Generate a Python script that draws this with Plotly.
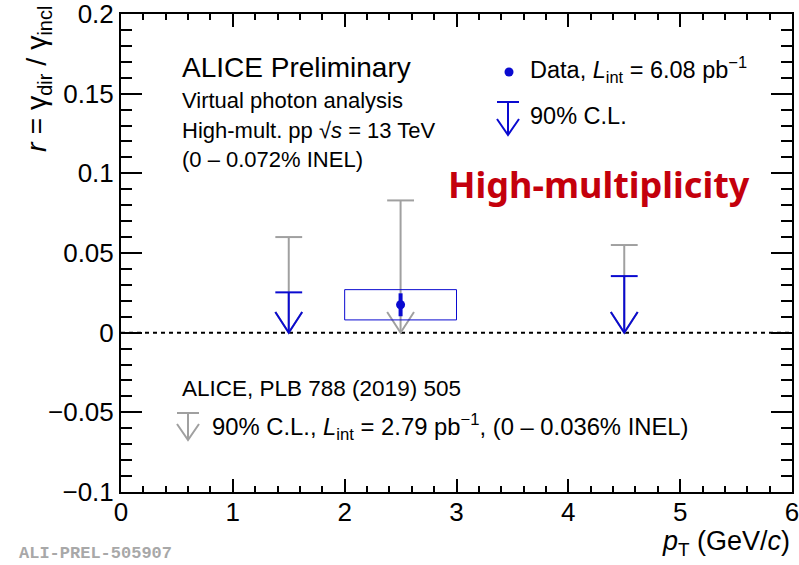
import plotly.graph_objects as go

# ---- data -------------------------------------------------------------
# previous measurement (ALICE, PLB 788 (2019) 505): 90% C.L. upper limits
prev_pt = [1.5, 2.5, 4.5]
prev_ul = [0.060, 0.083, 0.055]

# high-multiplicity analysis: 90% C.L. upper limits
hm_ul_pt = [1.5, 4.5]
hm_ul = [0.0253, 0.0355]

# high-multiplicity analysis: measured point
hm_pt = [2.5]
hm_r = [0.0175]
hm_stat = [0.0072]
hm_sys = [0.0095]
hm_bin_lo = [2.0]
hm_bin_hi = [3.0]

x_ticks = [0, 1, 2, 3, 4, 5, 6]
x_ticktext = ["0", "1", "2", "3", "4", "5", "6"]
y_ticks = [-0.1, -0.05, 0, 0.05, 0.1, 0.15, 0.2]
y_ticktext = ["\u22120.1", "\u22120.05", "0", "0.05", "0.1", "0.15", "0.2"]

# ---- style --------------------------------------------------------------
BLUE = "#0a0ad0"
GRAY = "#a0a0a0"
RED = "#c4000c"
FONT = "Liberation Sans, Arial, sans-serif"

W, H = 799, 565
L, R, T, B = 121, 792, 14, 492

CAP_HW = 0.12     # half-width of the limit cap (x units)
HEAD_HW = 0.12    # half-width of the arrow head (x units)
HEAD_H = 0.013    # height of the arrow head (y units)


def px(x):
    return (x - L) / (R - L)


def py(y):
    return (B - y) / (B - T)


def limit_arrows(xs, uls):
    ax, ay = [], []
    for x, u in zip(xs, uls):
        ax += [x, x, None, x - CAP_HW, x + CAP_HW, None,
               x - HEAD_HW, x, x + HEAD_HW, None]
        ay += [u, 0, None, u, u, None, HEAD_H, 0, HEAD_H, None]
    return ax, ay


fig = go.Figure()

# zero line
fig.add_trace(go.Scatter(x=[0, 6], y=[0, 0], mode="lines",
                         line=dict(color="black", width=2, dash="4px,4px"),
                         hoverinfo="skip"))

# previous limits (gray)
gx, gy = limit_arrows(prev_pt, prev_ul)
fig.add_trace(go.Scatter(x=gx, y=gy, mode="lines",
                         line=dict(color=GRAY, width=2), hoverinfo="skip"))

# systematic box
for lo, hi, r, s in zip(hm_bin_lo, hm_bin_hi, hm_r, hm_sys):
    fig.add_trace(go.Scatter(x=[lo, hi, hi, lo, lo],
                             y=[r - s, r - s, r + s, r + s, r - s],
                             mode="lines", line=dict(color=BLUE, width=1),
                             hoverinfo="skip"))

# high-multiplicity limits (blue)
bx, by = limit_arrows(hm_ul_pt, hm_ul)
fig.add_trace(go.Scatter(x=bx, y=by, mode="lines",
                         line=dict(color=BLUE, width=2), hoverinfo="skip"))

# data point with statistical error
fig.add_trace(go.Scatter(x=hm_pt, y=hm_r, mode="markers",
                         marker=dict(color=BLUE, size=9),
                         error_y=dict(type="data", array=hm_stat, color=BLUE,
                                      thickness=4, width=0),
                         hoverinfo="skip"))

# ---- legend glyphs ------------------------------------------------------
shapes = []
# blue dot
shapes.append(dict(type="circle", xref="paper", yref="paper",
                   x0=px(504.5), x1=px(513.5), y0=py(76.5), y1=py(67.5),
                   fillcolor=BLUE, line=dict(color=BLUE, width=0)))


def glyph(cx, top, bottom, hw, hh, color):
    out = [
        dict(type="line", x0=px(cx - hw), x1=px(cx + hw), y0=py(top), y1=py(top)),
        dict(type="line", x0=px(cx), x1=px(cx), y0=py(top), y1=py(bottom)),
        dict(type="path", path="M {} {} L {} {} L {} {}".format(
            px(cx - hw), py(bottom - hh), px(cx), py(bottom),
            px(cx + hw), py(bottom - hh))),
    ]
    for s in out:
        s.update(xref="paper", yref="paper", line=dict(color=color, width=2))
    return out


shapes += glyph(508, 102, 135, 11, 16, BLUE)
shapes += glyph(188, 413, 440, 11, 16, GRAY)

# ---- text ---------------------------------------------------------------
ann = []


def text(x, y, s, size, color="black", xanchor="left", family=FONT, **kw):
    ann.append(dict(x=px(x), y=py(y), xref="paper", yref="paper", text=s,
                    showarrow=False, xanchor=xanchor, yanchor="middle",
                    font=dict(size=size, color=color, family=family), **kw))


text(180, 67, "ALICE Preliminary", 28)
text(180, 101, "Virtual photon analysis", 22)
text(180, 130, "High-mult. pp \u221a<i>s</i> = 13 TeV", 22)
text(180, 159, "(0 \u2013 0.072% INEL)", 22)
text(528, 70, "Data, <i>L</i><sub>int</sub> = 6.08 pb<sup>\u22121</sup>", 23.5)
text(528, 116, "90% C.L.", 23.5)
text(446, 184, "<b>High-multiplicity</b>", 36, color=RED,
     family="Noto Sans, Open Sans, sans-serif")
text(180, 388, "ALICE, PLB 788 (2019) 505", 22.5)
text(210, 427, "90% C.L., <i>L</i><sub>int</sub> = 2.79 pb<sup>\u22121</sup>, "
     "(0 \u2013 0.036% INEL)", 23.8)
text(792, 543, "<i>p</i><sub>T</sub> (GeV/<i>c</i>)", 27, xanchor="right")
text(17, 553, "<b>ALI-PREL-505907</b>", 17, color="#a8a8a8",
     family="Liberation Mono, Courier New, monospace")

# y-axis title, rotated
ann.append(dict(x=px(38), y=py(4), xref="paper", yref="paper",
                text="<i>r</i> = \u03b3<sub>dir</sub> / \u03b3<sub>incl</sub>",
                showarrow=False, textangle=-90, xanchor="center", yanchor="top",
                font=dict(size=28.5, color="black", family=FONT)))

axis_common = dict(showline=True, linecolor="black", linewidth=2, mirror="allticks",
                   ticks="inside", tickcolor="black", tickwidth=2,
                   showgrid=False, zeroline=False, automargin=False,
                   ticklabeloverflow="allow",
                   tickfont=dict(size=26, color="black", family=FONT))

fig.update_layout(
    width=W, height=H,
    margin=dict(l=L, r=W - R, t=T, b=H - B),
    paper_bgcolor="white", plot_bgcolor="white",
    showlegend=False,
    xaxis=dict(range=[0, 6], tickvals=x_ticks, ticktext=x_ticktext, ticklen=13,
               ticklabelstandoff=-4,
               minor=dict(dtick=0.2, ticklen=6, ticks="inside",
                          tickcolor="black", tickwidth=1.5),
               **axis_common),
    yaxis=dict(range=[-0.1, 0.2], tickvals=y_ticks, ticktext=y_ticktext, ticklen=21,
               minor=dict(dtick=0.01, ticklen=11, ticks="inside",
                          tickcolor="black", tickwidth=1.5),
               **axis_common),
    shapes=shapes,
    annotations=ann,
)

fig.write_html("out.html")
